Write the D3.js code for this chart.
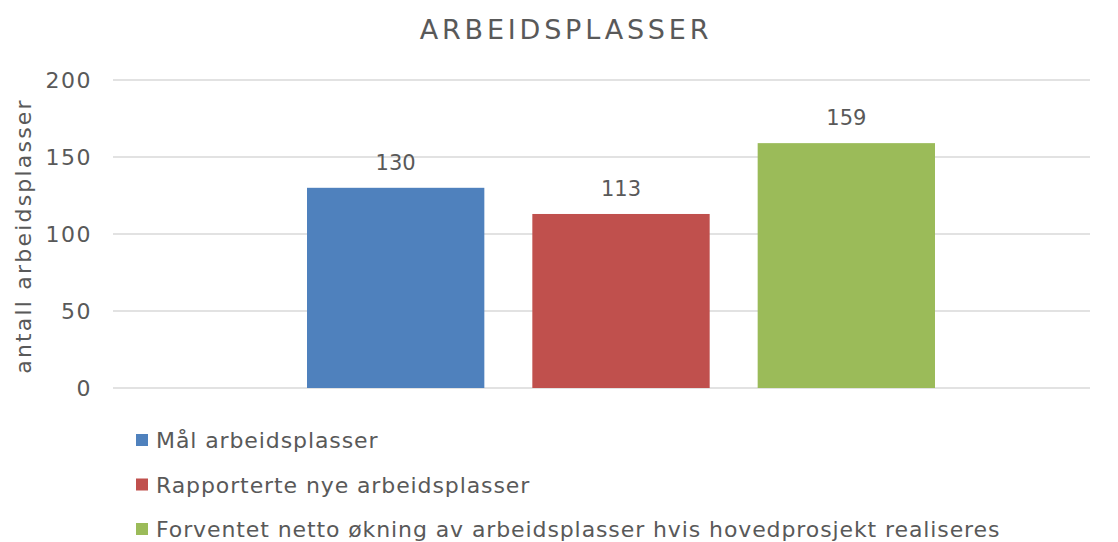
<!DOCTYPE html>
<html>
<head>
<meta charset="utf-8">
<script src="https://cdn.jsdelivr.net/npm/d3@7"></script>
<style>
  body { margin: 0; background: #fff; }
  text { font-family: "DejaVu Sans", sans-serif; fill: #595959; }
</style>
</head>
<body>
<div id="chart"></div>
<script>
// data
var series = ["Mål arbeidsplasser", "Rapporterte nye arbeidsplasser", "Forventet netto økning av arbeidsplasser hvis hovedprosjekt realiseres"];
var values = [130, 113, 159];
var colors = ["#4F81BD", "#C0504D", "#9BBB59"];
var yTicks = [0, 50, 100, 150, 200];

var W = 1118, H = 542;
var svg = d3.select("#chart").append("svg")
  .attr("width", W).attr("height", H);

var y = d3.scaleLinear().domain([0, 200]).range([388, 80]);
var x = d3.scaleBand().domain(series).range([307, 935]).paddingInner(0.213).paddingOuter(0);

// title
svg.append("text")
  .attr("x", 566).attr("y", 39)
  .attr("text-anchor", "middle")
  .style("font-size", "27px")
  .style("letter-spacing", "3.8px")
  .text("ARBEIDSPLASSER");

// gridlines
svg.append("g").selectAll("line")
  .data(yTicks).enter().append("line")
  .attr("x1", 113).attr("x2", 1090)
  .attr("y1", function(d){ return y(d); })
  .attr("y2", function(d){ return y(d); })
  .attr("stroke", "#d9d9d9").attr("stroke-width", 1.5);

// y axis labels
var yAxis = svg.append("g")
  .attr("transform", "translate(92,0)")
  .call(d3.axisLeft(y).tickValues(yTicks).tickSize(0).tickPadding(0));
yAxis.select(".domain").remove();
yAxis.selectAll("text")
  .style("font-size", "22px")
  .style("letter-spacing", "1.5px")
  .style("font-family", "DejaVu Sans, sans-serif")
  .attr("fill", "#595959");

svg.append("text")
  .attr("transform", "translate(31,236) rotate(-90)")
  .attr("text-anchor", "middle")
  .style("font-size", "22px")
  .style("letter-spacing", "2.2px")
  .text("antall arbeidsplasser");

// bars
svg.append("g").selectAll("rect")
  .data(values).enter().append("rect")
  .attr("x", function(d, i){ return x(series[i]); })
  .attr("width", x.bandwidth())
  .attr("y", function(d){ return y(d); })
  .attr("height", function(d){ return y(0) - y(d); })
  .attr("fill", function(d, i){ return colors[i]; });

// data labels
svg.append("g").selectAll("text")
  .data(values).enter().append("text")
  .attr("x", function(d, i){ return x(series[i]) + x.bandwidth() / 2; })
  .attr("y", function(d){ return y(d) - 18; })
  .attr("text-anchor", "middle")
  .style("font-size", "21px")
  .text(function(d){ return d; });

// legend
var leg = svg.append("g").selectAll("g")
  .data(series).enter().append("g")
  .attr("transform", function(d, i){ return "translate(136," + (440 + i * 44.5) + ")"; });
leg.append("rect")
  .attr("x", 0).attr("y", -6).attr("width", 12).attr("height", 12)
  .attr("fill", function(d, i){ return colors[i]; });
leg.append("text")
  .attr("x", 20).attr("y", 8)
  .style("font-size", "22px")
  .style("letter-spacing", "0.9px")
  .text(function(d){ return d; });
</script>
</body>
</html>
